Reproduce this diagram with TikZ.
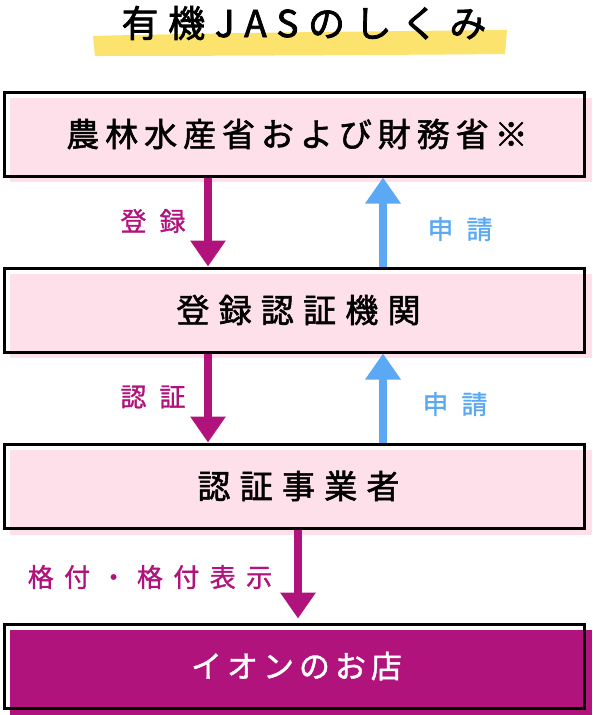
\documentclass[tikz,border=0pt]{standalone}
\usepackage{fontspec}
\setmainfont{Noto Sans CJK JP}
\newfontfamily\jpboxa[LetterSpace=18,FakeBold=1.6]{Noto Sans CJK JP}
\newfontfamily\jpbox[LetterSpace=28,FakeBold=1.6]{Noto Sans CJK JP}
\newfontfamily\jpboxd[LetterSpace=16,FakeBold=1.4]{Noto Sans CJK JP}
\newfontfamily\jplab[LetterSpace=50,FakeBold=1.2]{Noto Sans CJK JP}
\newfontfamily\jplabb[LetterSpace=40,FakeBold=1.2]{Noto Sans CJK JP}
\newfontfamily\jptitle[LetterSpace=26,FakeBold=2]{Noto Sans CJK JP}
\usetikzlibrary{arrows.meta}
\definecolor{magc}{HTML}{B1137C}
\definecolor{bluec}{HTML}{5BA9F4}
\definecolor{pinkc}{HTML}{FDE0EA}
\definecolor{yellc}{HTML}{FCE36E}
\tikzset{
  outbox/.style={draw=black, line width=3pt, minimum width=580pt, minimum height=84pt, inner sep=0pt},
  boxtext/.style={font=\jpbox\fontsize{33pt}{36pt}\selectfont},
  labtext/.style={font=\jplab\fontsize{26pt}{28pt}\selectfont},
  magarrow/.style={draw=magc, line width=8pt, -{Triangle[width=34pt,length=26pt]}},
  bluearrow/.style={draw=bluec, line width=8pt, -{Triangle[width=34pt,length=26pt]}}
}
\begin{document}
\begin{tikzpicture}[x=1pt,y=-1pt]
\useasboundingbox (0,0) rectangle (592,715);
% title highlight
\fill[yellc] (93,36) .. controls (200,33) and (400,31) .. (507,30) -- (505,54) .. controls (400,55) and (200,56) .. (95,56) -- cycle;
\node[font=\jptitle\fontsize{37pt}{40pt}\selectfont] (title) at (304,23) {有機JASのしくみ};
% offset fills
\fill[pinkc] (10,98) rectangle (592,182);
\fill[pinkc] (10,274) rectangle (592,358);
\fill[pinkc] (10,450) rectangle (592,535);
\fill[magc] (10,630) rectangle (592,715);
% boxes
\node[outbox, font=\jpboxa\fontsize{33pt}{36pt}\selectfont] (b1) at (294,134) {\hspace{6pt}農林水産省および財務省※};
\node[outbox, boxtext] (b2) at (294,310) {\hspace{9pt}登録認証機関};
\node[outbox, boxtext] (b3) at (294,486) {\hspace{9pt}認証事業者};
\node[outbox, font=\jpboxd\fontsize{31pt}{36pt}\selectfont, text=white] (b4) at (294,666) {\hspace{5pt}イオンのお店};
% arrows
\draw[magarrow] ([xshift=-86pt]b1.south) -- ([xshift=-86pt]b2.north);
\draw[bluearrow] ([xshift=89pt]b2.north) -- ([xshift=89pt]b1.south);
\draw[magarrow] ([xshift=-86pt]b2.south) -- ([xshift=-86pt]b3.north);
\draw[bluearrow] ([xshift=89pt]b3.north) -- ([xshift=89pt]b2.south);
\draw[magarrow] ([xshift=4pt]b3.south) -- ([xshift=4pt,yshift=4pt]b4.north);
% labels
\node[labtext, text=magc] (l1) at (153,221) {登録};
\node[labtext, text=bluec] (l2) at (460,229) {申請};
\node[labtext, text=magc] (l3) at (153,397) {認証};
\node[labtext, text=bluec] (l4) at (455,404) {申請};
\node[font=\jplabb\fontsize{26pt}{28pt}\selectfont, text=magc] (l5) at (150,577) {格付・格付表示};
\end{tikzpicture}
\end{document}
